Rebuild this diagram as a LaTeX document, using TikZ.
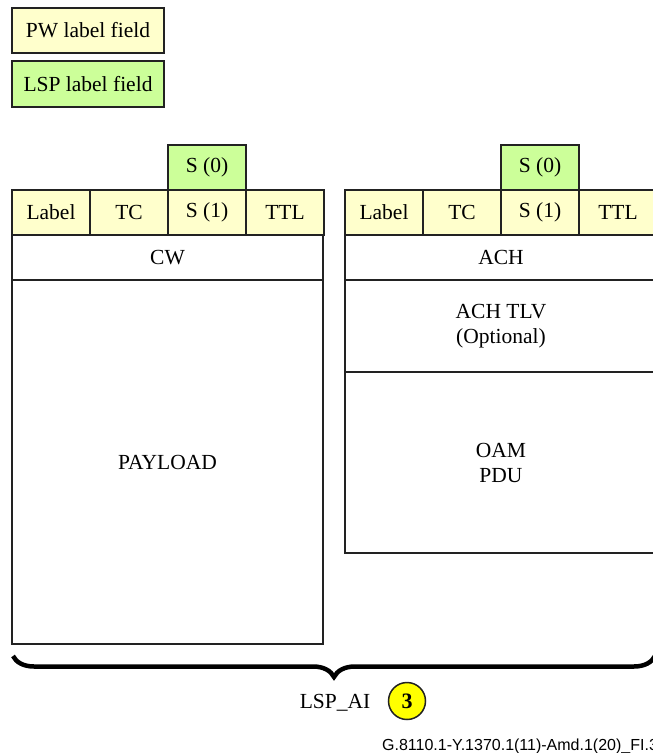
\documentclass[tikz,border=0pt]{standalone}
\usepackage{fontspec}
\setmainfont{Liberation Serif}
\newfontfamily\figidfont{Liberation Sans}
\usetikzlibrary{positioning,decorations.pathreplacing}
\definecolor{pwfill}{HTML}{FFFFCC}
\definecolor{lspfill}{HTML}{CCFF99}
\definecolor{markfill}{HTML}{FFFF00}
\definecolor{edgeline}{HTML}{222222}

\begin{document}
\begin{tikzpicture}[x=1pt,y=-1pt,font=\fontsize{21.5}{25}\selectfont,
 cell/.style={draw=edgeline,line width=1.4pt,inner sep=0pt,outer sep=0pt,anchor=north west,align=center},
 pwcell/.style={cell,fill=pwfill},
 lspcell/.style={cell,fill=lspfill}]
\useasboundingbox (0,0) rectangle (653,753);
\clip (0,0) rectangle (653,753);
% legend
\node[pwcell,minimum width=152pt,minimum height=45pt] (pwkey) at (12,8) {PW label field};
\node[lspcell,minimum width=152pt,minimum height=46pt] (lspkey) at (12,61) {LSP label field};
% label stack heads
\foreach \s/\x in {pw/12,oam/345} {
 \foreach \i/\t in {0/Label,1/TC,2/S (1),3/TTL} {
  \node[pwcell,minimum width=78pt,minimum height=45pt] (\s-hdr\i) at (\x+78*\i,190) {\t};
 }
 \node[lspcell,minimum width=78pt,minimum height=45pt,anchor=south west] (\s-sbit) at (\s-hdr2.north west) {S (0)};
}
% PW packet
\node[cell,minimum width=311pt,minimum height=45pt] (cw) at (pw-hdr0.south west) {CW};
\node[cell,minimum width=311pt,minimum height=364pt] (payload) at (cw.south west) {PAYLOAD};
% OAM packet
\node[cell,minimum width=312pt,minimum height=45pt] (ach) at (oam-hdr0.south west) {ACH};
\node[cell,minimum width=312pt,minimum height=92pt] (tlv) at (ach.south west) {ACH TLV\\(Optional)};
\node[cell,minimum width=312pt,minimum height=181pt] (pdu) at (tlv.south west) {OAM\\PDU};
% brace
\coordinate (bl) at (13,656);
\coordinate (br) at (655,656);
\draw[decorate,decoration={brace,mirror,amplitude=21pt},line width=4.5pt] (bl) -- (br);
\node (lspai) at (335,703) {LSP\_AI};
\node[circle,draw=edgeline,fill=markfill,line width=1.5pt,minimum size=37pt,inner sep=0pt,font=\bfseries\fontsize{22}{24}\selectfont] (mark) at (407,701) {3};
\node[anchor=base west,inner sep=0pt,font=\figidfont\fontsize{16}{18}\selectfont] (figid) at (382,750) {G.8110.1-Y.1370.1(11)-Amd.1(20)\_FI.3};
\end{tikzpicture}
\end{document}
